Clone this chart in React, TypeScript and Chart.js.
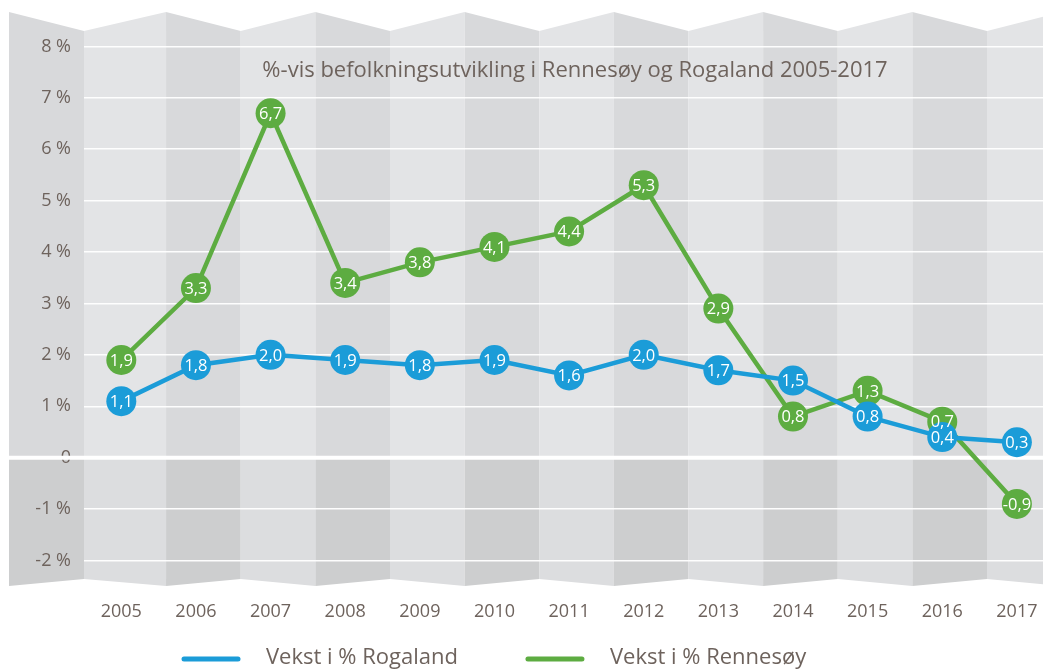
import React, { useEffect, useRef } from 'react';
import { Chart, registerables } from 'chart.js';

Chart.register(...registerables);

// ---- data ----
const years = ['2005', '2006', '2007', '2008', '2009', '2010', '2011', '2012', '2013', '2014', '2015', '2016', '2017'];
const rogaland = [1.1, 1.8, 2.0, 1.9, 1.8, 1.9, 1.6, 2.0, 1.7, 1.5, 0.8, 0.4, 0.3];
const rennesoy = [1.9, 3.3, 6.7, 3.4, 3.8, 4.1, 4.4, 5.3, 2.9, 0.8, 1.3, 0.7, -0.9];
const yTickValues = [-2, -1, 0, 1, 2, 3, 4, 5, 6, 7, 8];
const seriesLabels = ['Vekst i % Rogaland', 'Vekst i % Rennesøy'];
const chartTitle = '%-vis befolkningsutvikling i Rennesøy og Rogaland 2005-2017';

// ---- style ----
const BLUE = '#1b9cd8';
const GREEN = '#5dac41';
const TEXT = '#6e635d';
const FONT = '"Open Sans", sans-serif';

const foldPlugin = {
  id: 'fold',
  beforeDraw(chart: any) {
    const { ctx, chartArea: ca, scales } = chart;
    const x = scales.x;
    const y = scales.y;
    const y0 = y.getPixelForValue(0);
    const edges: number[] = [9, ca.left];
    for (let i = 1; i < years.length; i++) edges.push(x.getPixelForValue(i - 0.4));
    edges.push(x.getPixelForValue(years.length - 0.4));
    const topY = (k: number) => (k % 2 === 0 ? ca.top - 19 : ca.top);
    const botY = (k: number) => (k % 2 === 0 ? ca.bottom + 7 : ca.bottom);
    ctx.save();
    for (let k = 0; k < edges.length - 1; k++) {
      const xl = edges[k];
      const xr = edges[k + 1];
      const dark = k % 2 === 0;
      ctx.fillStyle = dark ? '#d8d9db' : '#e3e4e6';
      ctx.beginPath();
      ctx.moveTo(xl, topY(k));
      ctx.lineTo(xr, topY(k + 1));
      ctx.lineTo(xr, y0);
      ctx.lineTo(xl, y0);
      ctx.closePath();
      ctx.fill();
      ctx.fillStyle = dark ? '#cdcecf' : '#dcdddf';
      ctx.beginPath();
      ctx.moveTo(xl, y0);
      ctx.lineTo(xr, y0);
      ctx.lineTo(xr, botY(k + 1));
      ctx.lineTo(xl, botY(k));
      ctx.closePath();
      ctx.fill();
    }
    ctx.restore();
  },
  beforeDatasetsDraw(chart: any) {
    const { ctx, scales } = chart;
    const y0 = scales.y.getPixelForValue(0);
    ctx.save();
    ctx.strokeStyle = '#ffffff';
    ctx.lineWidth = 4;
    ctx.beginPath();
    ctx.moveTo(9, y0);
    ctx.lineTo(chart.width, y0);
    ctx.stroke();
    ctx.fillStyle = TEXT;
    ctx.font = `22px ${FONT}`;
    ctx.textAlign = 'center';
    ctx.textBaseline = 'alphabetic';
    ctx.fillText(chartTitle, 575, 77);
    ctx.restore();
  },
  afterDatasetsDraw(chart: any) {
    const { ctx } = chart;
    ctx.save();
    ctx.fillStyle = '#ffffff';
    ctx.font = `16.5px ${FONT}`;
    ctx.textAlign = 'center';
    ctx.textBaseline = 'middle';
    for (let di = chart.data.datasets.length - 1; di >= 0; di--) {
      const ds = chart.data.datasets[di];
      const meta = chart.getDatasetMeta(di);
      meta.data.forEach((pt: any, i: number) => {
        const v = ds.data[i].y;
        ctx.fillText(v.toFixed(1).replace('.', ','), pt.x, pt.y + 1);
      });
    }
    ctx.restore();
  },
  afterDraw(chart: any) {
    const { ctx } = chart;
    ctx.save();
    ctx.font = `22px ${FONT}`;
    ctx.textBaseline = 'middle';
    ctx.textAlign = 'left';
    let lx = 182;
    const ly = 659;
    chart.data.datasets.forEach((ds: any) => {
      ctx.strokeStyle = ds.borderColor;
      ctx.lineWidth = 5;
      ctx.lineCap = 'round';
      ctx.beginPath();
      ctx.moveTo(lx + 2, ly);
      ctx.lineTo(lx + 56, ly);
      ctx.stroke();
      ctx.fillStyle = TEXT;
      ctx.fillText(ds.label, lx + 84, ly - 1);
      lx += 84 + ctx.measureText(ds.label).width + 68;
    });
    ctx.restore();
  },
};

function makeDataset(label: string, values: number[], color: string) {
  return {
    label,
    data: values.map((v, i) => ({ x: i, y: v })),
    borderColor: color,
    backgroundColor: color,
    borderWidth: 4.5,
    pointRadius: 15,
    pointHoverRadius: 15,
    pointBackgroundColor: color,
    pointBorderWidth: 0,
    tension: 0,
    clip: false as any,
  };
}

export default function App() {
  const ref = useRef<HTMLCanvasElement>(null);
  useEffect(() => {
    const chart = new Chart(ref.current as HTMLCanvasElement, {
      type: 'line',
      data: {
        datasets: [
          makeDataset(seriesLabels[0], rogaland, BLUE),
          makeDataset(seriesLabels[1], rennesoy, GREEN),
        ],
      },
      options: {
        responsive: false,
        animation: false,
        devicePixelRatio: 1,
        events: [],
        layout: { autoPadding: false, padding: { left: 9, top: 31, right: 0, bottom: 42 } },
        plugins: { legend: { display: false }, tooltip: { enabled: false } },
        scales: {
          x: {
            type: 'linear',
            min: -0.5,
            max: 12.35,
            afterBuildTicks: (s: any) => {
              s.ticks = years.map((_, i) => ({ value: i }));
            },
            afterFit: (s: any) => {
              s.height = 50;
              s.paddingLeft = 0;
              s.paddingRight = 0;
            },
            grid: { display: false, drawTicks: false },
            border: { display: false },
            ticks: {
              callback: (v: any) => years[v] ?? '',
              color: TEXT,
              font: { family: FONT, size: 18 },
              padding: 22,
              maxRotation: 0,
              autoSkip: false,
            },
          },
          y: {
            min: -2.36,
            max: 8.3,
            afterBuildTicks: (s: any) => {
              s.ticks = yTickValues.map((v) => ({ value: v }));
            },
            afterFit: (s: any) => {
              s.width = 75;
            },
            grid: {
              color: 'rgba(255,255,255,0.95)',
              lineWidth: (c: any) => (c.tick && c.tick.value === 0 ? 0 : 1.5),
              drawTicks: false,
            },
            border: { display: false },
            ticks: {
              callback: (v: any) => (v === 0 ? '0' : `${v} %`),
              color: TEXT,
              font: { family: FONT, size: 18 },
              padding: 13,
            },
          },
        },
      },
      plugins: [foldPlugin],
    } as any);
    return () => chart.destroy();
  }, []);
  return (
    <div style={{ position: 'fixed', left: 0, top: 0, width: 1043, height: 671, background: '#ffffff' }}>
      <canvas ref={ref} width={1043} height={671} style={{ display: 'block' }} />
    </div>
  );
}
